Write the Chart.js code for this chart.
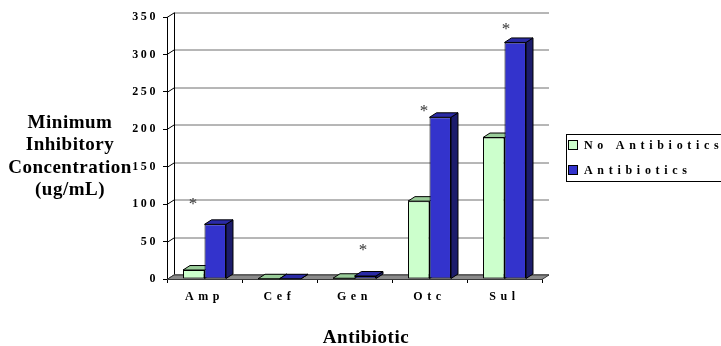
<!DOCTYPE html>
<html>
<head>
<meta charset="utf-8">
<style>
  html, body { margin: 0; padding: 0; background: #ffffff; }
  canvas { display: block; }
</style>
<script src="https://cdn.jsdelivr.net/npm/chart.js@4.4.1/dist/chart.umd.min.js"></script>
</head>
<body>
<canvas id="mic" width="721" height="346"></canvas>
<script>
// Minimum inhibitory concentration per antibiotic, two culture conditions
const categories = ['Amp', 'Cef', 'Gen', 'Otc', 'Sul'];
const seriesNames = ['No Antibiotics', 'Antibiotics'];
const noAntibiotics = [12, 0.3, 1, 104, 189];
const antibiotics = [73, 0.3, 4, 216, 316];
// height (in ug/mL) at which a significance asterisk sits, null = none
const starLevels = [104, null, 43, 228, 338];
const yTicks = [0, 50, 100, 150, 200, 250, 300, 350];
const yTitleLines = ['Minimum', 'Inhibitory', 'Concentration', '(ug/mL)'];
const xTitle = 'Antibiotic';

const SERIF = "'Liberation Serif', 'Times New Roman', serif";
const DEPTH = { dx: 7, dy: -4.5 };       // oblique offset of the back wall
const X_SPACING = '4.6px';
const Y_SPACING = '2.6px';
const LEGEND_SPACING = '4.7px';

function poly(ctx, pts, fill, stroke) {
  ctx.beginPath();
  ctx.moveTo(pts[0][0], pts[0][1]);
  for (let i = 1; i < pts.length; i++) ctx.lineTo(pts[i][0], pts[i][1]);
  ctx.closePath();
  if (fill) { ctx.fillStyle = fill; ctx.fill(); }
  if (stroke) { ctx.strokeStyle = stroke; ctx.lineWidth = 1; ctx.stroke(); }
}

// tick labels are letter-spaced; each axis gets its own tracking
function spacedLabels(spacing) {
  return function (s) {
    if (s._spaced) return;
    const orig = s.drawLabels.bind(s);
    s.drawLabels = function (area) {
      const prev = s.ctx.letterSpacing;
      s.ctx.letterSpacing = spacing;
      orig(area);
      s.ctx.letterSpacing = prev;
    };
    s._spaced = true;
  };
}

// Pseudo-3D box: floor, back wall grid, side wall and bar top/side faces
const boxPlugin = {
  id: 'box3d',
  beforeDatasetsDraw(chart, args, opts) {
    const ctx = chart.ctx;
    const { left, right, top, bottom } = chart.chartArea;
    const y = chart.scales.y;
    const { dx, dy } = DEPTH;
    ctx.save();
    // back wall gridlines + side wall diagonals
    y.ticks.forEach(t => {
      const py = Math.round(y.getPixelForValue(t.value)) + 0.5;
      ctx.strokeStyle = t.value === 0 ? '#000' : '#6e6e6e';
      ctx.lineWidth = 1;
      ctx.beginPath();
      ctx.moveTo(left + dx, py + dy);
      ctx.lineTo(right + dx, py + dy);
      ctx.stroke();
      ctx.strokeStyle = '#000';
      ctx.beginPath();
      ctx.moveTo(left, py);
      ctx.lineTo(left + dx, py + dy);
      ctx.stroke();
    });
    // back wall left edge
    ctx.strokeStyle = '#000';
    ctx.beginPath();
    ctx.moveTo(Math.round(left + dx) + 0.5, top + dy);
    ctx.lineTo(Math.round(left + dx) + 0.5, bottom + dy);
    ctx.stroke();
    // floor
    const b = Math.round(bottom) + 0.5;
    poly(ctx, [[left, b], [left + dx, b + dy], [right + dx, b + dy], [right, b]], '#8a8a8a', '#3a3a3a');
    // bar faces (front faces are drawn by the bar controller)
    chart.data.datasets.forEach((ds, di) => {
      const meta = chart.getDatasetMeta(di);
      meta.data.forEach(el => {
        const p = el.getProps(['x', 'y', 'base', 'width'], true);
        const L = p.x - p.width / 2, R = p.x + p.width / 2;
        poly(ctx, [[R, p.y], [R + dx, p.y + dy], [R + dx, p.base + dy], [R, p.base]], ds.sideColor, '#000');
        poly(ctx, [[L, p.y], [L + dx, p.y + dy], [R + dx, p.y + dy], [R, p.y]], ds.topColor, '#000');
      });
    });
    ctx.restore();
  },
  afterDatasetsDraw(chart, args, opts) {
    // significance asterisks
    const ctx = chart.ctx;
    const x = chart.scales.x, y = chart.scales.y;
    const cat = (x.right - x.left) / categories.length;
    ctx.save();
    ctx.fillStyle = '#333';
    ctx.font = 'normal 17px ' + SERIF;
    ctx.textAlign = 'center';
    ctx.textBaseline = 'alphabetic';
    starLevels.forEach((lvl, i) => {
      if (lvl == null) return;
      const px = x.getPixelForValue(i) + opts.nudge[i] * cat;
      const py = y.getPixelForValue(lvl);
      ctx.fillText('*', px, py + 8);
    });
    ctx.restore();
  },
  afterDraw(chart, args, opts) {
    const ctx = chart.ctx;
    ctx.save();
    // axis titles
    ctx.fillStyle = '#000';
    ctx.font = 'bold 19px ' + SERIF;
    ctx.letterSpacing = '0.5px';
    ctx.textAlign = 'center';
    ctx.textBaseline = 'middle';
    yTitleLines.forEach((line, i) => ctx.fillText(line, opts.yTitle.x, opts.yTitle.y + i * opts.yTitle.lineHeight));
    ctx.fillText(xTitle, opts.xTitle.x, opts.xTitle.y);
    // legend
    const lg = opts.legend;
    ctx.strokeStyle = '#000';
    ctx.lineWidth = 1;
    ctx.strokeRect(lg.x + 0.5, lg.y + 0.5, lg.w, lg.h);
    ctx.font = 'bold 12px ' + SERIF;
    ctx.letterSpacing = LEGEND_SPACING;
    ctx.textAlign = 'left';
    chart.data.datasets.forEach((ds, i) => {
      const cy = lg.y + lg.firstRow + i * lg.rowGap;
      ctx.fillStyle = ds.backgroundColor;
      ctx.fillRect(lg.x + 3, cy - 4, 8, 8);
      ctx.strokeStyle = '#000';
      ctx.strokeRect(lg.x + 2.5, cy - 4.5, 9, 9);
      ctx.fillStyle = '#000';
      ctx.fillText(ds.label, lg.x + 18, cy + 1);
    });
    ctx.restore();
  }
};

const tickFont = { family: SERIF, size: 12, weight: 'bold' };

new Chart(document.getElementById('mic'), {
  type: 'bar',
  data: {
    labels: categories,
    datasets: [
      {
        label: seriesNames[0],
        data: noAntibiotics,
        backgroundColor: '#CCFFCC',
        topColor: '#99CC99',
        sideColor: '#99CC99',
        borderColor: '#000',
        borderWidth: 1,
        borderSkipped: false,
        categoryPercentage: 0.573,
        barPercentage: 1.0
      },
      {
        label: seriesNames[1],
        data: antibiotics,
        backgroundColor: '#3333CC',
        topColor: '#2A2AA6',
        sideColor: '#1C1C6B',
        borderColor: '#000',
        borderWidth: 1,
        borderSkipped: false,
        categoryPercentage: 0.573,
        barPercentage: 1.0
      }
    ]
  },
  options: {
    responsive: false,
    animation: false,
    layout: { padding: { top: 17, right: 179, left: 0, bottom: 0 } },
    plugins: {
      legend: { display: false },
      tooltip: { enabled: false },
      box3d: {
        nudge: [-0.153, 0, 0.113, -0.073, 0.02],
        yTitle: { x: 70, y: 123, lineHeight: 22.3 },
        xTitle: { x: 366, y: 338 },
        legend: { x: 566, y: 134, w: 170, h: 47, firstRow: 11, rowGap: 25 }
      }
    },
    scales: {
      x: {
        grid: { display: true, offset: true, drawOnChartArea: false, tickLength: 4, color: '#000', lineWidth: 1 },
        border: { display: true, color: '#000', width: 1 },
        ticks: { font: tickFont, color: '#000', maxRotation: 0, autoSkip: false, padding: 7 },
        afterFit(s) { s.height = 67; },
        afterUpdate: spacedLabels(X_SPACING)
      },
      y: {
        min: 0,
        max: 350,
        afterBuildTicks(s) { s.ticks = yTicks.map(v => ({ value: v })); },
        grid: { display: true, drawOnChartArea: false, tickLength: 4, color: '#000', lineWidth: 1 },
        border: { display: true, color: '#000', width: 1 },
        ticks: { font: tickFont, color: '#000', padding: 5 },
        afterFit(s) { s.width = 167; },
        afterUpdate: spacedLabels(Y_SPACING)
      }
    }
  },
  plugins: [boxPlugin]
});
</script>
</body>
</html>
